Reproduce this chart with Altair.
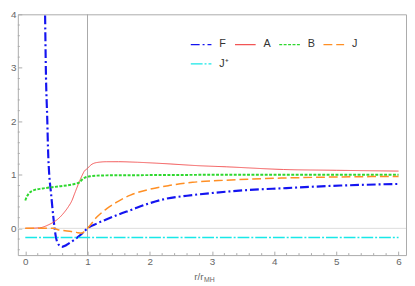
import altair as alt
import pandas as pd

# ---- data ----
names = ["F", "A", "B", "J", "J\u207a"]
colors = ["#1414f0", "#f25555", "#2fd82f", "#ff8f24", "#18e8e8"]
dashes = [[9, 3, 2, 3], [1, 0], [3, 1.5], [9, 4], [12, 2, 2, 2]]

F_r = [0.31, 0.318, 0.33, 0.354, 0.365, 0.385, 0.41, 0.45, 0.49, 0.54, 0.59, 0.65, 0.69, 0.77,
       0.85, 0.93, 1.0, 1.15, 1.31, 1.5, 1.69, 2.0, 2.25, 2.6, 3.0, 3.5, 4.15, 5.07, 6.0]
F_v = [4.6, 4.0, 3.0, 2.0, 1.5, 1.0, 0.7, 0.22, -0.15, -0.31, -0.345, -0.32, -0.29, -0.23,
       -0.16, -0.08, 0.0, 0.09, 0.17, 0.26, 0.34, 0.47, 0.55, 0.61, 0.66, 0.71, 0.75, 0.80, 0.83]

A_r = [0, 0.23, 0.38, 0.46, 0.54, 0.62, 0.69, 0.75, 0.79, 0.83, 0.87, 0.91, 0.95, 1.0, 1.05,
       1.15, 1.31, 1.5, 1.8, 2.23, 2.8, 3.23, 4.15, 5.0, 6.0]
A_v = [0, 0.01, 0.07, 0.12, 0.19, 0.29, 0.40, 0.52, 0.64, 0.76, 0.875, 0.98, 1.07, 1.12, 1.18,
       1.23, 1.245, 1.245, 1.235, 1.21, 1.17, 1.15, 1.10, 1.085, 1.07]

B_r = [0, 0.02, 0.05, 0.13, 0.28, 0.54, 0.79, 0.87, 0.92, 0.96, 1.0, 1.05, 1.15, 1.31, 2, 3, 4, 5, 6]
B_v = [0.52, 0.58, 0.64, 0.71, 0.745, 0.785, 0.83, 0.86, 0.92, 0.95, 0.965, 0.975, 0.985, 0.99,
       0.995, 1.0, 1.0, 1.0, 1.0]

J_r = [0, 0.45, 0.54, 0.64, 0.74, 0.82, 0.9, 0.95, 1.0, 1.15, 1.31, 1.5, 1.69, 2.0, 2.31, 2.69,
       3.23, 4.15, 5.0, 6.0]
J_v = [0, 0, -0.03, -0.045, -0.06, -0.075, -0.09, -0.06, 0, 0.21, 0.37, 0.51, 0.62, 0.73, 0.80,
       0.86, 0.90, 0.94, 0.96, 0.97]

Jp_r = [0, 6]
Jp_v = [-0.17, -0.17]

x_major = [0, 1, 2, 3, 4, 5, 6]
y_major = [0, 1, 2, 3, 4]
x_minor = [round(0.2 * k, 1) for k in range(0, 31) if k % 5 != 0]
y_minor = [round(-0.4 + 0.2 * k, 1) for k in range(0, 23) if (k - 2) % 5 != 0]

rows = []
for name, xs, ys in zip(names, [F_r, A_r, B_r, J_r, Jp_r], [F_v, A_v, B_v, J_v, Jp_v]):
    for i, (x, y) in enumerate(zip(xs, ys)):
        rows.append({"s": name, "r": x, "v": y, "i": i})
df = pd.DataFrame(rows)

FONT = "Liberation Sans"
W, H = 395, 245

def make_axis(vals):
    return alt.Axis(
        values=vals,
        format="d",
        tickSize=4,
        offset=-4,
        domain=False,
        grid=False,
        tickColor="#aaaaaa",
        labelColor="#666666",
        labelFont=FONT,
        labelFontSize=10,
        labelPadding=2,
        labelFlush=False,
        title=None,
    )

legend = alt.Legend(
    orient="none", legendX=175, legendY=19, columns=4, direction="horizontal",
    symbolType="stroke", symbolSize=441, symbolStrokeWidth=1.2, labelOffset=7,
    columnPadding=3, rowPadding=3, gridAlign="all", labelFont=FONT, labelFontSize=11,
    labelColor="#333333", padding=0, title=None,
)

xscale = alt.Scale(domain=[-0.12, 6.12], nice=False, zero=False)
yscale = alt.Scale(domain=[-0.5, 4], nice=False, zero=False)

lines = alt.Chart(df).mark_line(clip=True, interpolate="monotone").encode(
    x=alt.X("r:Q", scale=xscale, axis=make_axis(x_major)),
    y=alt.Y("v:Q", scale=yscale, axis=make_axis(y_major)),
    color=alt.Color("s:N", scale=alt.Scale(domain=names, range=colors), legend=legend, title=None),
    strokeDash=alt.StrokeDash("s:N", scale=alt.Scale(domain=names, range=dashes), legend=legend, title=None),
    strokeWidth=alt.when(alt.datum.s == "F").then(alt.value(2.2))
        .when(alt.datum.s == "B").then(alt.value(2))
        .when(alt.datum.s == "A").then(alt.value(1))
        .otherwise(alt.value(1.5)),
    order="i:Q",
)

vrule = alt.Chart(pd.DataFrame({"r": [1]})).mark_rule(color="#a8a8a8", strokeWidth=1).encode(
    x=alt.X("r:Q", scale=xscale))
hrule = alt.Chart(pd.DataFrame({"v": [0]})).mark_rule(color="#dcdcdc", strokeWidth=1).encode(
    y=alt.Y("v:Q", scale=yscale))

# minor ticks along the frame (inside)
xminor = alt.Chart(pd.DataFrame({"r": x_minor})).mark_rule(color="#aaaaaa", strokeWidth=1).encode(
    x=alt.X("r:Q", scale=xscale), y=alt.value(H), y2=alt.value(H - 2))
yminor = alt.Chart(pd.DataFrame({"v": y_minor})).mark_rule(color="#aaaaaa", strokeWidth=1).encode(
    y=alt.Y("v:Q", scale=yscale), x=alt.value(0), x2=alt.value(2))

t1 = alt.Chart(pd.DataFrame({"t": ["r/r"]})).mark_text(
    align="right", baseline="alphabetic", font=FONT, fontSize=10, color="#666666"
).encode(text="t:N", x=alt.value(189), y=alt.value(270))
t2 = alt.Chart(pd.DataFrame({"t": ["MH"]})).mark_text(
    align="left", baseline="alphabetic", font=FONT, fontSize=7, color="#666666"
).encode(text="t:N", x=alt.value(189.5), y=alt.value(272))

chart = alt.layer(hrule, vrule, xminor, yminor, lines, t1, t2).properties(
    width=W, height=H,
    autosize=alt.AutoSizeParams(type="none"),
    padding={"left": 10, "top": 4, "right": 1, "bottom": 28},
).configure_view(stroke="#aaaaaa", strokeWidth=1)

chart.save("out.html", embed_options={"renderer": "svg", "actions": False})
